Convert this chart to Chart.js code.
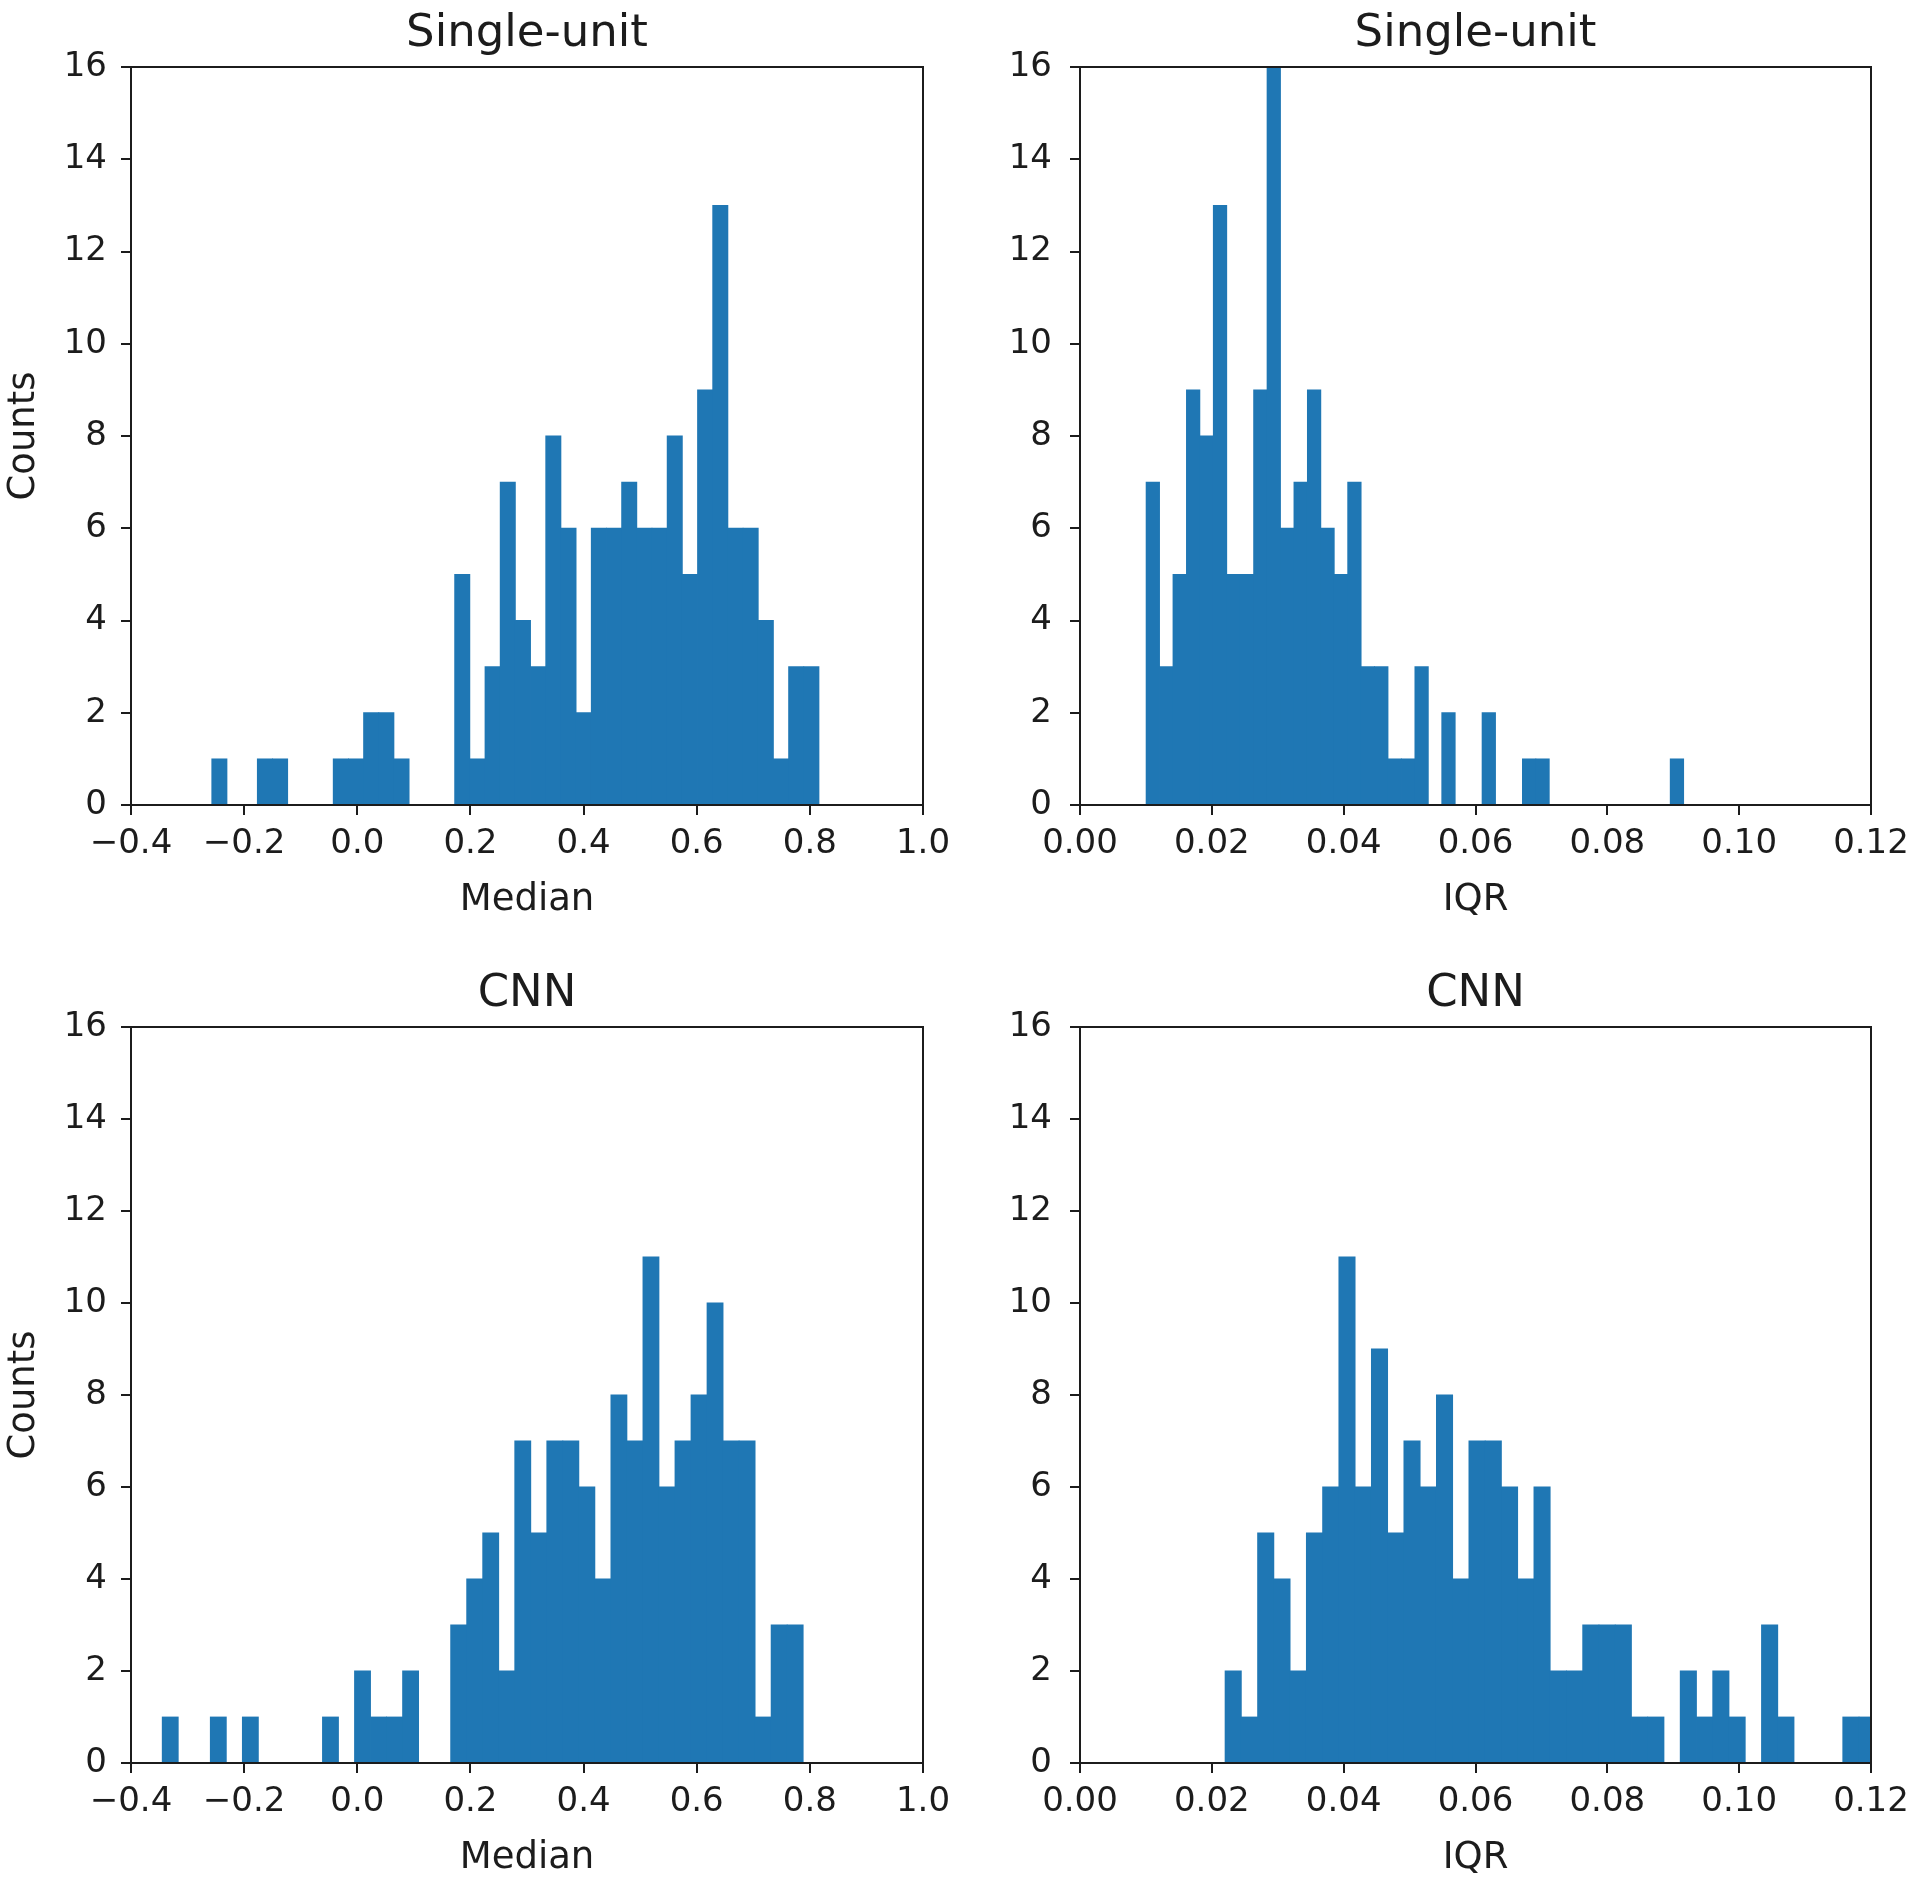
<!DOCTYPE html>
<html>
<head>
<meta charset="utf-8">
<script src="https://cdn.jsdelivr.net/npm/chart.js@4.4.1/dist/chart.umd.min.js"></script>
<style>
html, body { margin: 0; padding: 0; background: #ffffff; }
body { width: 1920px; height: 1889px; position: relative; overflow: hidden; }
canvas { position: absolute; }
</style>
</head>
<body>
<canvas id="c1" width="960" height="944" style="left:0px;top:0px"></canvas>
<canvas id="c2" width="960" height="944" style="left:960px;top:0px"></canvas>
<canvas id="c3" width="960" height="945" style="left:0px;top:944px"></canvas>
<canvas id="c4" width="960" height="945" style="left:960px;top:944px"></canvas>
<script>
// ---------------- data ----------------
const medianTicks = [-0.4, -0.2, 0.0, 0.2, 0.4, 0.6, 0.8, 1.0];
const medianTickLabels = ['\u22120.4', '\u22120.2', '0.0', '0.2', '0.4', '0.6', '0.8', '1.0'];
const iqrTicks = [0.00, 0.02, 0.04, 0.06, 0.08, 0.10, 0.12];
const iqrTickLabels = ['0.00', '0.02', '0.04', '0.06', '0.08', '0.10', '0.12'];
const countTicks = [0, 2, 4, 6, 8, 10, 12, 14, 16];
const countTickLabels = ['0', '2', '4', '6', '8', '10', '12', '14', '16'];

// histogram ranges (min, max of the 40 bins) and counts per bin
const singleMedianRange = [-0.2572, 0.8161];
const singleMedianCounts = [1,0,0,1,1,0,0,0,1,1, 2,2,1,0,0,0,5,1,3,7, 4,3,8,6,2,6,6,7,6,6, 8,5,9,13,6,6,4,1,3,3];

const singleIqrRange = [0.01003, 0.09158];
const singleIqrCounts = [7,3,5,9,8,13,5,5,9,16, 6,7,9,6,5,7,3,3,1,1, 3,0,2,0,0,2,0,0,1,1, 0,0,0,0,0,0,0,0,0,1];

const cnnMedianRange = [-0.3448, 0.7882];
const cnnMedianCounts = [1,0,0,1,0,1,0,0,0,0, 1,0,2,1,1,2,0,0,3,4, 5,2,7,5,7,7,6,4,8,7, 11,6,7,8,10,7,7,1,3,3];

const cnnIqrRange = [0.02201, 0.12065];
const cnnIqrCounts = [2,1,5,4,2,5,6,11,6,9, 5,7,6,8,4,7,7,6,4,6, 2,2,3,3,3,1,1,0,2,1, 2,1,0,3,1,0,0,0,1,1];

const panelTitles = ['Single-unit', 'Single-unit', 'CNN', 'CNN'];
const xTitles = ['Median', 'IQR', 'Median', 'IQR'];
const yTitle = 'Counts';

// ---------------- rendering ----------------
const FONT = "'DejaVu Sans', 'Liberation Sans', sans-serif";
const BAR = '#1f77b4';
const INK = '#1c1c1c';

function histPoints(range, counts) {
  const w = (range[1] - range[0]) / counts.length;
  return counts.map((c, i) => ({ x: range[0] + (i + 0.5) * w, y: c }));
}

const framePlugin = {
  id: 'frame',
  afterDraw(chart) {
    const a = chart.chartArea, ctx = chart.ctx;
    ctx.save();
    ctx.strokeStyle = INK;
    ctx.lineWidth = 2;
    ctx.strokeRect(a.left, a.top, a.right - a.left, a.bottom - a.top);
    ctx.restore();
  }
};

function makeChart(id, cfg) {
  const ctx = document.getElementById(id);
  return new Chart(ctx, {
    type: 'bar',
    data: {
      datasets: [{
        data: histPoints(cfg.range, cfg.counts),
        backgroundColor: BAR,
        borderWidth: 0,
        barPercentage: 1.0,
        categoryPercentage: 1.0,
        inflateAmount: 0.4
      }]
    },
    options: {
      responsive: false,
      animation: false,
      devicePixelRatio: 1,
      layout: { padding: { left: 0, right: cfg.padRight, top: 0, bottom: cfg.padBottom } },
      plugins: {
        legend: { display: false },
        tooltip: { enabled: false },
        title: {
          display: true,
          fullSize: false,
          text: cfg.title,
          color: INK,
          font: { family: FONT, size: 45, weight: 'normal' },
          padding: { top: cfg.titleTop, bottom: cfg.titleBottom }
        }
      },
      scales: {
        x: {
          type: 'linear',
          offset: false,
          min: cfg.xTicks[0],
          max: cfg.xTicks[cfg.xTicks.length - 1],
          afterBuildTicks: s => { s.ticks = cfg.xTicks.map(v => ({ value: v })); },
          afterFit: s => { s.height = 117.5; },
          ticks: {
            autoSkip: false,
            maxRotation: 0,
            color: INK,
            font: { family: FONT, size: 34 },
            padding: 9,
            callback: (v, i) => cfg.xLabels[i]
          },
          grid: { offset: false, drawOnChartArea: false, drawTicks: true, tickLength: 10, color: INK, lineWidth: 2 },
          border: { display: false },
          title: {
            display: true,
            text: cfg.xTitle,
            color: INK,
            font: { family: FONT, size: 37 },
            padding: { top: 0, bottom: 0 }
          }
        },
        y: {
          type: 'linear',
          min: 0,
          max: 16,
          afterBuildTicks: s => { s.ticks = countTicks.map(v => ({ value: v })); },
          afterFit: s => { s.width = cfg.yWidth; },
          ticks: {
            autoSkip: false,
            color: INK,
            font: { family: FONT, size: 34 },
            padding: cfg.yPad,
            callback: (v, i) => countTickLabels[i]
          },
          grid: { drawOnChartArea: false, drawTicks: true, tickLength: 10, color: INK, lineWidth: 2 },
          border: { display: false },
          title: {
            display: cfg.showY,
            text: yTitle,
            color: INK,
            font: { family: FONT, size: 37 },
            padding: { top: 2, bottom: 0 }
          }
        }
      }
    },
    plugins: [framePlugin]
  });
}

makeChart('c1', { range: singleMedianRange, counts: singleMedianCounts, title: panelTitles[0], xTitle: xTitles[0],
  xTicks: medianTicks, xLabels: medianTickLabels, yWidth: 131, yPad: 14, showY: true,
  padRight: 37, padBottom: 21.5, titleTop: 7.5, titleBottom: 5.5 });
makeChart('c2', { range: singleIqrRange, counts: singleIqrCounts, title: panelTitles[1], xTitle: xTitles[1],
  xTicks: iqrTicks, xLabels: iqrTickLabels, yWidth: 120, yPad: 18, showY: false,
  padRight: 49, padBottom: 21.5, titleTop: 7.5, titleBottom: 5.5 });
makeChart('c3', { range: cnnMedianRange, counts: cnnMedianCounts, title: panelTitles[2], xTitle: xTitles[2],
  xTicks: medianTicks, xLabels: medianTickLabels, yWidth: 131, yPad: 14, showY: true,
  padRight: 37, padBottom: 8.5, titleTop: 23.3, titleBottom: 5.7 });
makeChart('c4', { range: cnnIqrRange, counts: cnnIqrCounts, title: panelTitles[3], xTitle: xTitles[3],
  xTicks: iqrTicks, xLabels: iqrTickLabels, yWidth: 120, yPad: 18, showY: false,
  padRight: 49, padBottom: 8.5, titleTop: 23.3, titleBottom: 5.7 });
</script>
</body>
</html>
